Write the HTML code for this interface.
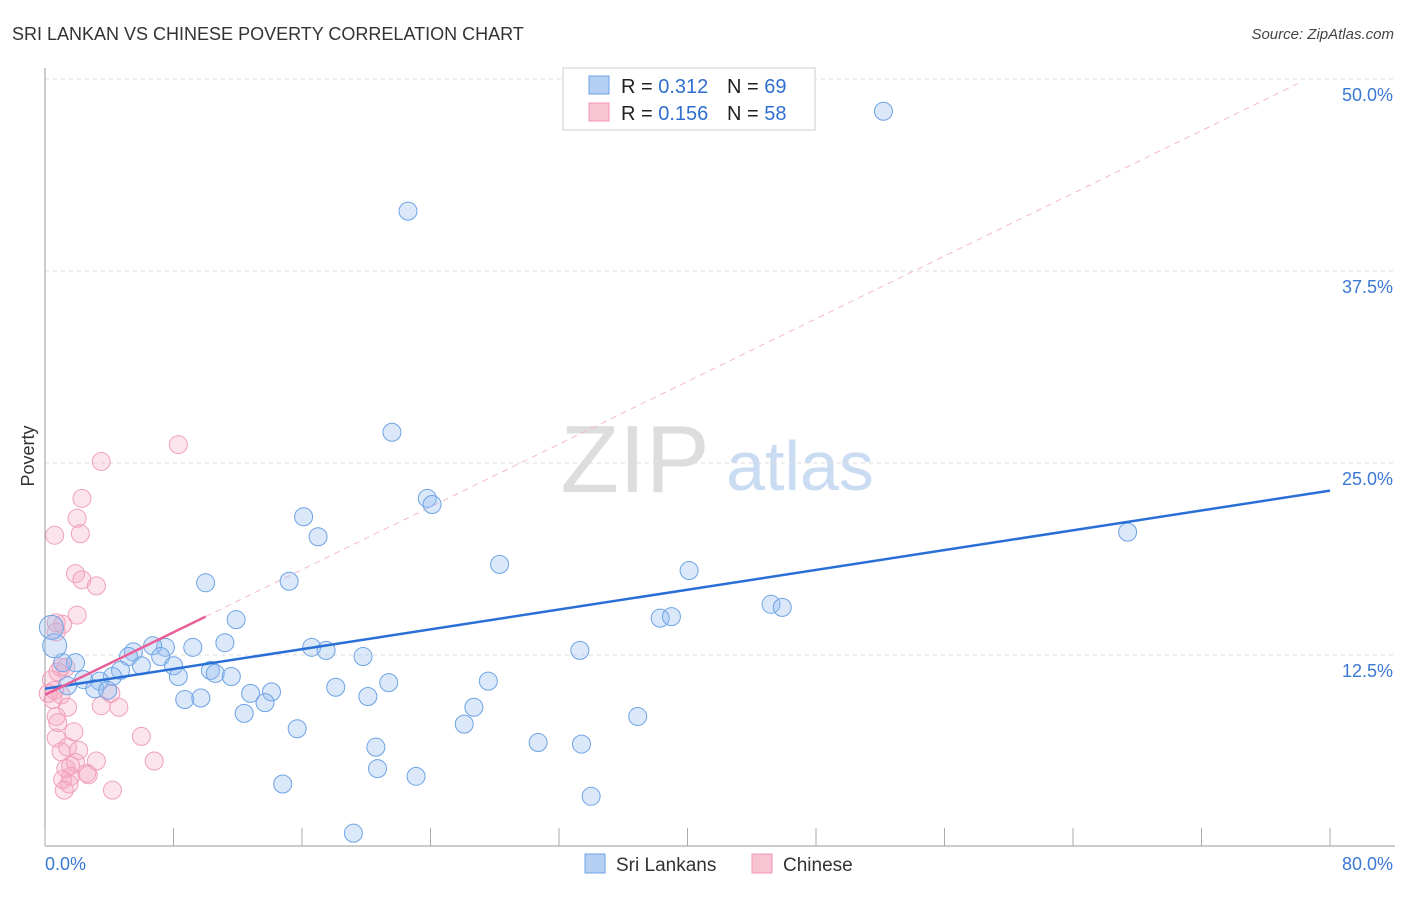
<!DOCTYPE html>
<html><head><meta charset="utf-8"><style>
body{margin:0;background:#fff;font-family:"Liberation Sans",sans-serif;}
svg text{font-family:"Liberation Sans",sans-serif;}
</style></head><body>
<svg id="chart" width="1406" height="892" xmlns="http://www.w3.org/2000/svg">
<text x="12" y="40" font-size="18" fill="#333">SRI LANKAN VS CHINESE POVERTY CORRELATION CHART</text>
<text x="1394" y="39" font-size="15" fill="#444" font-style="italic" text-anchor="end">Source: ZipAtlas.com</text>
<g>
<text x="635" y="492" font-size="96" font-family="Liberation Serif,serif" fill="#ddd" text-anchor="middle">ZIP</text>
<text x="800" y="490" font-size="70" fill="#c9dcf2" text-anchor="middle">atlas</text>
</g>
<text x="34" y="456" font-size="18" fill="#333" transform="rotate(-90 34 456)" text-anchor="middle">Poverty</text>
<g id="grid"></g><g id="ticks"></g><g id="lines"></g><g id="pts"></g>
<g>
<rect x="563" y="68" width="252" height="62" fill="#fff" stroke="#ccc"/>
<rect x="589" y="76" width="20" height="18" fill="#b5d0f3" stroke="#6ea3e4"/>
<rect x="589" y="103" width="20" height="18" fill="#f8c3d3" stroke="#ee9ab6"/>
<text x="621" y="93" font-size="20" fill="#222">R = <tspan fill="#2f6fd0">0.312</tspan></text>
<text x="727" y="93" font-size="20" fill="#222">N = <tspan fill="#2f6fd0">69</tspan></text>
<text x="621" y="120" font-size="20" fill="#222">R = <tspan fill="#2f6fd0">0.156</tspan></text>
<text x="727" y="120" font-size="20" fill="#222">N = <tspan fill="#2f6fd0">58</tspan></text>
</g>
<g>
<rect x="585" y="854" width="20" height="19" fill="#b5d0f3" stroke="#6ea3e4"/>
<text x="616" y="871" font-size="19" fill="#333">Sri Lankans</text>
<rect x="752" y="854" width="20" height="19" fill="#f8c3d3" stroke="#ee9ab6"/>
<text x="783" y="871" font-size="19" fill="#333">Chinese</text>
</g>
<text x="45" y="870" font-size="18" fill="#3a78d4">0.0%</text>
<text x="1393" y="870" font-size="18" fill="#3a78d4" text-anchor="end">80.0%</text>
</svg>
<script>
const yTicks=[12.5,25,37.5,50];
const yTickLabels=["12.5%","25.0%","37.5%","50.0%"];
const xTicks=[0,8,16,24,32,40,48,56,64,72,80];
const blueX=[52.2,22.6,21.6,23.8,24.1,16.1,17.0,67.4,28.3,40.1,10.0,15.2,45.2,45.9,38.3,39.0,11.9,11.2,33.3,16.6,17.5,19.8,9.2,7.5,6.7,5.5,5.2,7.2,6.0,8.0,8.3,10.3,10.6,11.6,4.7,4.2,1.9,1.1,0.6,0.4,2.4,3.4,3.1,3.9,1.4,12.8,14.1,13.7,8.7,9.7,18.1,21.4,27.6,20.1,12.4,26.7,26.1,36.9,15.7,30.7,33.4,20.6,20.7,23.1,14.8,34.0,19.2];
const blueY=[47.9,41.4,27.0,22.7,22.3,21.5,20.2,20.5,18.4,18.0,17.2,17.3,15.8,15.6,14.9,15.0,14.8,13.3,12.8,13.0,12.8,12.4,13.0,13.0,13.1,12.7,12.4,12.4,11.8,11.8,11.1,11.5,11.3,11.1,11.5,11.1,12.0,12.0,13.1,14.3,10.9,10.8,10.3,10.2,10.5,10.0,10.1,9.4,9.6,9.7,10.4,10.7,10.8,9.8,8.7,9.1,8.0,8.5,7.7,6.8,6.7,6.5,5.1,4.6,4.1,3.3,0.9];
const pinkX=[8.3,3.5,2.3,2.0,2.2,0.6,1.9,2.3,3.2,2.0,0.7,1.1,0.7,1.0,0.8,1.3,0.4,0.6,0.2,0.5,1.0,4.1,3.5,4.6,1.4,0.7,0.8,1.8,0.7,6.0,1.4,1.0,2.1,6.8,3.2,1.9,1.6,1.3,2.6,1.6,2.7,1.1,1.5,4.2,1.2];
const pinkY=[26.2,25.1,22.7,21.4,20.4,20.3,17.8,17.4,17.0,15.1,14.6,14.5,14.0,11.7,11.4,11.7,10.9,10.2,10.0,9.6,9.9,10.0,9.2,9.1,9.1,8.5,8.1,7.5,7.1,7.2,6.5,6.2,6.3,5.6,5.6,5.5,5.3,5.1,4.8,4.6,4.7,4.4,4.1,3.7,3.7];
const blueLine=[[0,10.3],[80,23.2]];
const pinkSolid=[[0,9.9],[10,15.0]];
const pinkDash=[[10,15.0],[78,49.7]];
const X=v=>45+v/80*1285, Y=v=>847-v/12.5*192;
const NS="http://www.w3.org/2000/svg";
function mk(t,a,p){const e=document.createElementNS(NS,t);for(const k in a)e.setAttribute(k,a[k]);p.appendChild(e);return e;}
const grid=document.getElementById('grid'),ticks=document.getElementById('ticks'),lines=document.getElementById('lines'),pts=document.getElementById('pts');
yTicks.forEach((t,i)=>{
 const l=mk('line',{x1:45,x2:1395,y1:Y(t),y2:Y(t),stroke:'#ddd','stroke-dasharray':'4 4'},grid);
 
 
 const tx=mk('text',{x:1393,y:Y(t)+22,'font-size':18,fill:'#3a78d4','text-anchor':'end'},grid);
 tx.textContent=yTickLabels[i];
 
 
});
const ax=mk('line',{x1:45,x2:45,y1:68,y2:846,stroke:'#999'},ticks);


const bx=mk('line',{x1:45,x2:1395,y1:846,y2:846,stroke:'#999'},ticks);


xTicks.forEach(t=>{
 const l=mk('line',{x1:X(t),x2:X(t),y1:828,y2:846,stroke:'#aaa'},ticks);
 
 
});
function dot(x,y,fill,stroke,name,r){
 const c=mk('circle',{cx:X(x),cy:Y(y),r:r||9,fill:fill,stroke:stroke,'stroke-width':1},pts);
 
 
}
pinkX.forEach((x,i)=>dot(x,pinkY[i],'rgba(245,165,192,0.3)','#f0a0bc','chinese-point'));
blueX.forEach((x,i)=>dot(x,blueY[i],'rgba(150,190,240,0.35)','#6ea3e4','sri-lankan-point',(x<1&&blueY[i]>13)?12:9));
const pd=mk('line',{x1:X(pinkDash[0][0]),y1:Y(pinkDash[0][1]),x2:X(pinkDash[1][0]),y2:Y(pinkDash[1][1]),stroke:'#f4b8cc','stroke-dasharray':'6 5','stroke-width':1},lines);


const bl=mk('line',{x1:X(blueLine[0][0]),y1:Y(blueLine[0][1]),x2:X(blueLine[1][0]),y2:Y(blueLine[1][1]),stroke:'#2a6fd6','stroke-width':2.5},pts);


const ps=mk('line',{x1:X(pinkSolid[0][0]),y1:Y(pinkSolid[0][1]),x2:X(pinkSolid[1][0]),y2:Y(pinkSolid[1][1]),stroke:'#e8609a','stroke-width':2.5},pts);


</script>
</body></html>
